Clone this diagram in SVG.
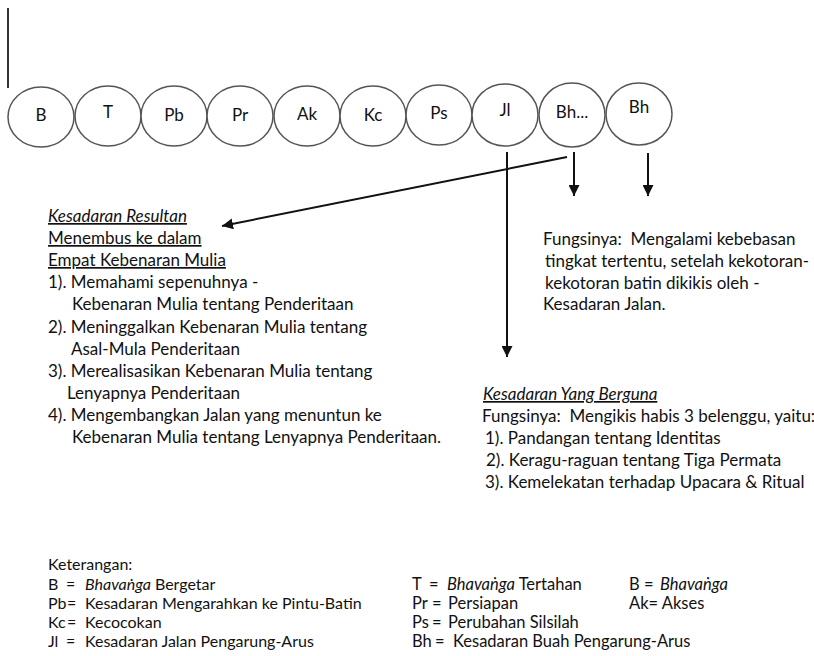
<svg xmlns="http://www.w3.org/2000/svg" width="814" height="656" viewBox="0 0 814 656">
<defs>
<style>
.t{font-family:Lato,"Open Sans","Liberation Sans",sans-serif;font-size:17px;fill:#111}
.lg{font-size:16px}
.lm{font-size:16.5px}
.c{fill:#fff;stroke:#555;stroke-width:1.5}
.lbl{font-family:Lato,"Open Sans","Liberation Sans",sans-serif;font-size:17px;fill:#111;text-anchor:middle}
.u{text-decoration:underline}
.i{font-style:italic}
.ln{stroke:#111;stroke-width:2;fill:none}
</style>
<marker id="ah" viewBox="0 0 10 10" refX="10" refY="5" markerWidth="11" markerHeight="11" markerUnits="userSpaceOnUse" orient="auto">
<path d="M0,0 L10,5 L0,10 z" fill="#111"/>
</marker>
</defs>
<rect width="814" height="656" fill="#fff"/>
<line x1="8" y1="8" x2="8" y2="88" stroke="#333" stroke-width="2"/>
<g id="nodes">
<g id="n-B"><ellipse class="c" cx="41" cy="117" rx="33" ry="30"/><text class="lbl" x="41" y="121">B</text></g>
<g id="n-T"><ellipse class="c" cx="108" cy="116" rx="33" ry="30"/><text class="lbl" x="108" y="118">T</text></g>
<g id="n-Pb"><ellipse class="c" cx="174" cy="116" rx="33" ry="30"/><text class="lbl" x="174" y="121">Pb</text></g>
<g id="n-Pr"><ellipse class="c" cx="240" cy="116" rx="33" ry="30"/><text class="lbl" x="240" y="121">Pr</text></g>
<g id="n-Ak"><ellipse class="c" cx="307" cy="116" rx="33" ry="30"/><text class="lbl" x="307" y="120">Ak</text></g>
<g id="n-Kc"><ellipse class="c" cx="373" cy="116" rx="33" ry="30"/><text class="lbl" x="373" y="121">Kc</text></g>
<g id="n-Ps"><ellipse class="c" cx="439" cy="115" rx="33" ry="30"/><text class="lbl" x="439" y="119">Ps</text></g>
<g id="n-Jl"><ellipse class="c" cx="505" cy="115" rx="33" ry="31"/><text class="lbl" x="505" y="116">Jl</text></g>
<g id="n-Bh1"><ellipse class="c" cx="572" cy="115" rx="33" ry="32"/><text class="lbl" x="572" y="118">Bh...</text></g>
<g id="n-Bh2"><ellipse class="c" cx="639" cy="114" rx="33" ry="31"/><text class="lbl" x="639" y="113">Bh</text></g>
</g>
<g id="connectors">
<line class="ln" x1="507" y1="152" x2="507" y2="357" marker-end="url(#ah)"/>
<line class="ln" x1="574" y1="152" x2="574" y2="196" marker-end="url(#ah)"/>
<line class="ln" x1="648" y1="153" x2="648" y2="196" marker-end="url(#ah)"/>
<line class="ln" x1="567" y1="157" x2="222" y2="226" marker-end="url(#ah)"/>
</g>
<g id="resultan">
<text class="t i u" x="48" y="222">Kesadaran Resultan</text>
<text class="t u" x="48" y="244">Menembus ke dalam</text>
<text class="t u" x="48" y="266">Empat Kebenaran Mulia</text>
<text class="t" x="48" y="288">1). Memahami sepenuhnya -</text>
<text class="t" x="72" y="310">Kebenaran Mulia tentang Penderitaan</text>
<text class="t" x="48" y="333">2). Meninggalkan Kebenaran Mulia tentang</text>
<text class="t" x="71" y="355">Asal-Mula Penderitaan</text>
<text class="t" x="48" y="377">3). Merealisasikan Kebenaran Mulia tentang</text>
<text class="t" x="67" y="399">Lenyapnya Penderitaan</text>
<text class="t" x="48" y="421">4). Mengembangkan Jalan yang menuntun ke</text>
<text class="t" x="72" y="443">Kebenaran Mulia tentang Lenyapnya Penderitaan.</text>
</g>
<g id="buah">
<text class="t" x="543" y="245" xml:space="preserve">Fungsinya:  Mengalami kebebasan</text>
<text class="t" x="545" y="267">tingkat tertentu, setelah kekotoran-</text>
<text class="t" x="545" y="289">kekotoran batin dikikis oleh -</text>
<text class="t" x="543" y="310">Kesadaran Jalan.</text>
</g>
<g id="berguna">
<text class="t i u" x="483" y="400">Kesadaran Yang Berguna</text>
<text class="t" x="482" y="422" xml:space="preserve">Fungsinya:  Mengikis habis 3 belenggu, yaitu:</text>
<text class="t" x="485" y="444">1). Pandangan tentang Identitas</text>
<text class="t" x="486" y="466">2). Keragu-raguan tentang Tiga Permata</text>
<text class="t" x="485" y="488">3). Kemelekatan terhadap Upacara &amp; Ritual</text>
</g>
<g id="legend">
<text class="t lg" x="48" y="570">Keterangan:</text>
<text class="t lg" x="48" y="590">B</text><text class="t lg" x="66" y="590">=</text><text class="t lg" x="85" y="590"><tspan class="i">Bhavaṅga</tspan> Bergetar</text>
<text class="t lg" x="48" y="609">Pb</text><text class="t lg" x="67" y="609">=</text><text class="t lg" x="85" y="609">Kesadaran Mengarahkan ke Pintu-Batin</text>
<text class="t lg" x="48" y="628">Kc</text><text class="t lg" x="67" y="628">=</text><text class="t lg" x="85" y="628">Kecocokan</text>
<text class="t lg" x="48" y="647">Jl</text><text class="t lg" x="66" y="647">=</text><text class="t lg" x="85" y="647">Kesadaran Jalan Pengarung-Arus</text>
<text class="t lm" x="412" y="590">T</text><text class="t lm" x="429" y="590">=</text><text class="t lm" x="447" y="590"><tspan class="i">Bhavaṅga</tspan> Tertahan</text>
<text class="t lm" x="412" y="609">Pr</text><text class="t lm" x="432" y="609">=</text><text class="t lm" x="448" y="609">Persiapan</text>
<text class="t lm" x="412" y="628">Ps</text><text class="t lm" x="432" y="628">=</text><text class="t lm" x="448" y="628">Perubahan Silsilah</text>
<text class="t lm" x="412" y="647">Bh</text><text class="t lm" x="435" y="647">=</text><text class="t lm" x="453" y="647">Kesadaran Buah Pengarung-Arus</text>
<text class="t lm" x="629" y="590">B</text><text class="t lm" x="644" y="590">=</text><text class="t lm i" x="660" y="590">Bhavaṅga</text>
<text class="t lm" x="629" y="609">Ak= Akses</text>
</g>
</svg>
